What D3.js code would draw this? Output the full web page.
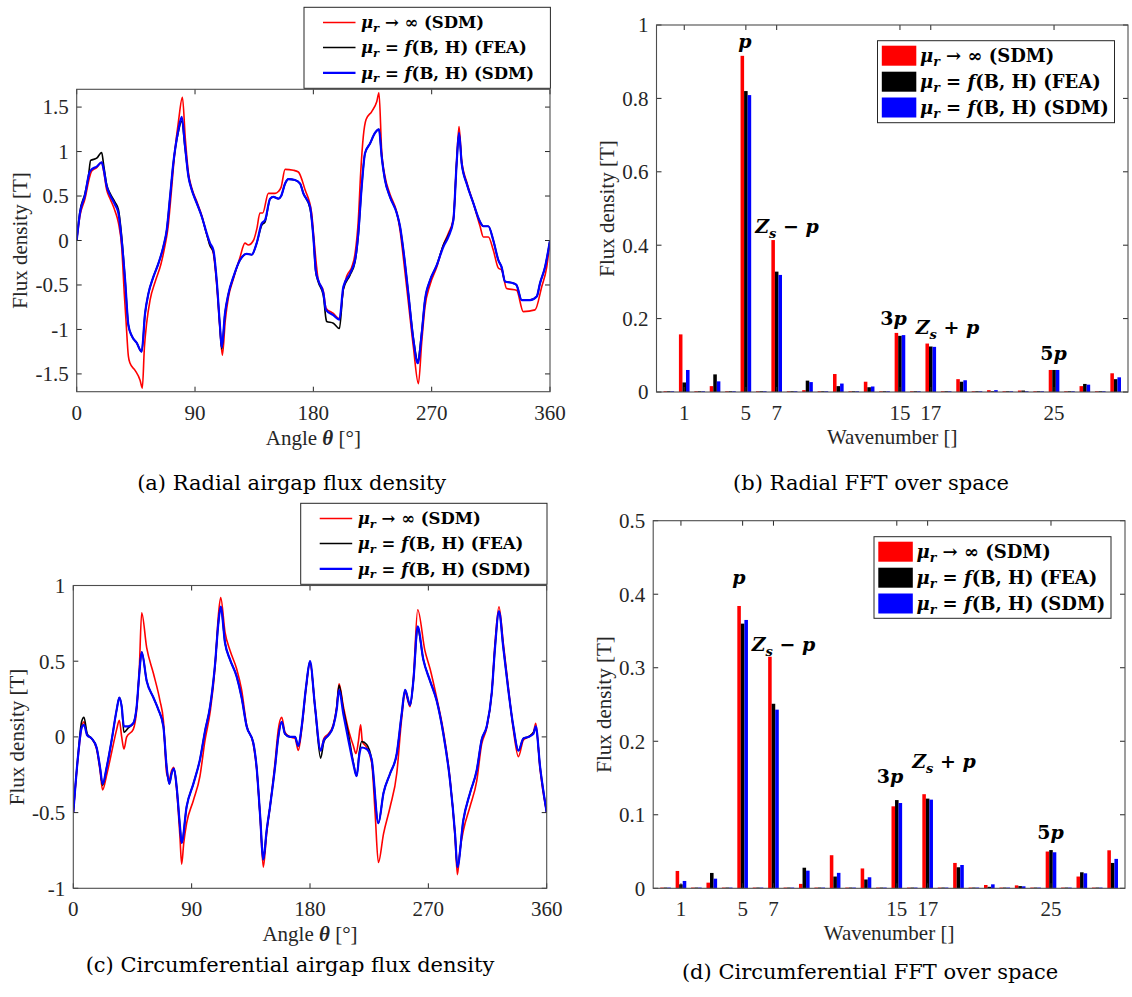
<!DOCTYPE html>
<html><head><meta charset="utf-8">
<script src="https://cdn.jsdelivr.net/npm/d3@7"></script>
<style>body{margin:0;background:#fff}</style>
</head><body><svg id="c" width="1132" height="997" xmlns="http://www.w3.org/2000/svg"></svg>
<script>
// ---------------- DATA ----------------
// (a) Radial airgap flux density [angle deg, T]
const radialSDMinf = [[0,0],[2.5,0.28],[6.3,0.47],[9.6,0.70],[11.4,0.78],[15.2,0.82],[19,0.88],[20.5,0.78],[22.8,0.57],[25.4,0.47],[29.2,0.33],[31.7,0.20],[34.2,-0.07],[36.2,-0.6],[37.5,-0.9],[39.3,-1.30],[40.6,-1.38],[44.4,-1.46],[48.2,-1.57],[49.9,-1.66],[51.5,-1.2],[53.2,-0.93],[55.8,-0.67],[60,-0.45],[64,-0.27],[67,-0.07],[69.5,0.15],[72,0.55],[74.5,0.98],[77.5,1.35],[80.4,1.61],[82.6,1.15],[85,0.76],[87.5,0.59],[91.3,0.44],[95.1,0.28],[98.9,0.07],[101.4,-0.05],[104,-0.15],[106.5,-0.5],[109,-1.0],[110.8,-1.29],[113,-0.9],[115.4,-0.64],[119.2,-0.43],[124,-0.2],[128,-0.03],[130.6,-0.05],[134.4,0.0],[137,0.13],[139.4,0.31],[141.5,0.31],[145.8,0.53],[150.9,0.53],[153.4,0.55],[155.5,0.60],[158.5,0.80],[164.8,0.79],[168.6,0.77],[173.7,0.57],[178.7,0.31],[180,0.1],[182.5,-0.30],[183.8,-0.45],[187.6,-0.57],[189.6,-0.76],[195.2,-0.82],[199.8,-0.88],[202.8,-0.55],[205.4,-0.40],[209.2,-0.30],[211.7,-0.15],[214.2,0.23],[216,0.76],[218,1.17],[220.1,1.36],[224.4,1.45],[228.2,1.56],[229.9,1.66],[232,1.0],[234.5,0.72],[238.3,0.52],[243.4,0.32],[245.9,0.12],[248.5,-0.2],[252.3,-0.7],[256.1,-1.2],[259.9,-1.61],[262.4,-1.15],[264.9,-0.75],[268.7,-0.5],[273.8,-0.3],[278.9,-0.05],[282.7,0.08],[286.5,0.25],[289,0.9],[290.8,1.28],[292.8,0.9],[296.6,0.66],[301.7,0.42],[306.8,0.16],[309.3,0.04],[313.1,0.04],[316.9,-0.11],[320.7,-0.31],[323.2,-0.33],[327,-0.54],[334.6,-0.56],[339.7,-0.80],[348.6,-0.78],[353.7,-0.52],[357.5,-0.30],[360,0.0]];
const radialFEA = [[0,0],[2.5,0.33],[6.3,0.53],[8.9,0.72],[10.6,0.90],[15.2,0.925],[19,0.99],[20.5,0.85],[22.8,0.63],[25.4,0.53],[29.2,0.43],[31.7,0.35],[34.2,0.05],[36.8,-0.44],[39.3,-0.95],[41.8,-1.07],[45.6,-1.15],[49.4,-1.25],[52,-0.82],[54.5,-0.6],[58.3,-0.41],[62.1,-0.26],[65.9,-0.07],[68.5,0.12],[71,0.49],[73.5,0.87],[77.3,1.22],[79.9,1.34],[82.4,1.04],[85,0.72],[87.5,0.57],[91.3,0.42],[95.1,0.27],[98.9,0.07],[101.4,-0.06],[104,-0.13],[106.5,-0.46],[109,-0.98],[110.3,-1.22],[112.8,-0.82],[115.4,-0.6],[119.2,-0.41],[124.2,-0.22],[129.3,-0.15],[133.1,-0.16],[136.9,-0.03],[140.7,0.17],[143.3,0.21],[147.1,0.47],[149.6,0.49],[153.4,0.47],[155.5,0.50],[158.5,0.64],[161,0.69],[166,0.68],[169.9,0.64],[172.4,0.53],[177.5,0.36],[180,0.04],[181.8,-0.35],[183.8,-0.47],[187.6,-0.62],[189.6,-0.88],[190.1,-0.91],[195.2,-0.93],[199.8,-0.99],[202.8,-0.55],[207.9,-0.39],[211.7,-0.24],[214.2,0.06],[216.8,0.61],[219.3,0.98],[223.1,1.09],[226.9,1.21],[229.9,1.25],[232,0.94],[234.5,0.68],[238.3,0.49],[243.4,0.31],[245.9,0.16],[248.5,-0.11],[252.3,-0.60],[256.1,-1.10],[259.4,-1.35],[262.4,-1.03],[264.9,-0.67],[268.7,-0.45],[273.8,-0.28],[278.9,-0.05],[282.7,0.06],[286.5,0.23],[289,0.87],[290.8,1.20],[292.8,0.87],[296.6,0.64],[301.7,0.42],[306.8,0.21],[309.3,0.16],[313.1,0.16],[316.9,0.0],[320.7,-0.22],[323.2,-0.30],[325.8,-0.46],[332.1,-0.48],[334.5,-0.50],[338.5,-0.67],[344.8,-0.67],[349.9,-0.63],[352.4,-0.48],[356.2,-0.30],[360,0.0]];
const radialSDM = [[0,0],[2.5,0.31],[6.3,0.51],[9.6,0.76],[11.4,0.80],[15.2,0.83],[19,0.88],[20.5,0.80],[22.8,0.61],[25.4,0.51],[29.2,0.40],[31.7,0.31],[34.2,0.0],[36.8,-0.44],[39.3,-0.95],[41.8,-1.07],[45.6,-1.15],[49.4,-1.25],[52,-0.82],[54.5,-0.6],[58.3,-0.41],[62.1,-0.26],[65.9,-0.07],[68.5,0.12],[71,0.49],[73.5,0.87],[77.3,1.24],[79.9,1.39],[82.4,1.06],[85,0.72],[87.5,0.57],[91.3,0.42],[95.1,0.27],[98.9,0.08],[101.4,-0.03],[104,-0.11],[106.5,-0.45],[109,-0.97],[110.3,-1.2],[112.8,-0.82],[115.4,-0.6],[119.2,-0.41],[124.2,-0.22],[129.3,-0.15],[133.1,-0.16],[136.9,-0.03],[140.7,0.19],[143.3,0.23],[147.1,0.47],[149.6,0.49],[153.4,0.47],[155.5,0.50],[158.5,0.64],[161,0.69],[166,0.68],[169.9,0.64],[172.4,0.53],[177.5,0.38],[180,0.04],[181.8,-0.33],[183.8,-0.45],[187.6,-0.59],[189.6,-0.78],[195.2,-0.84],[199.8,-0.89],[202.8,-0.52],[207.9,-0.37],[211.7,-0.22],[214.2,0.08],[216.8,0.61],[219.3,0.98],[223.1,1.09],[226.9,1.21],[229.9,1.25],[232,0.94],[234.5,0.68],[238.3,0.49],[243.4,0.31],[245.9,0.16],[248.5,-0.11],[252.3,-0.60],[256.1,-1.12],[259.4,-1.38],[262.4,-1.05],[264.9,-0.67],[268.7,-0.45],[273.8,-0.28],[278.9,-0.07],[282.7,0.04],[286.5,0.23],[289,0.87],[290.8,1.21],[292.8,0.87],[296.6,0.64],[301.7,0.42],[306.8,0.21],[309.3,0.16],[313.1,0.16],[316.9,0.0],[320.7,-0.22],[323.2,-0.30],[325.8,-0.46],[332.1,-0.48],[334.5,-0.50],[338.5,-0.67],[344.8,-0.67],[349.9,-0.63],[352.4,-0.48],[356.2,-0.30],[360,0.0]];

// (c) Circumferential airgap flux density [angle deg, T]
const circSDMinf = [[0,-0.50],[3.8,-0.12],[6.3,0.06],[8.1,0.10],[10.6,0.01],[13.9,-0.01],[17.7,-0.08],[20.3,-0.22],[22.3,-0.35],[25.4,-0.25],[29.2,-0.10],[33,0.05],[35,0.11],[36.8,0.0],[38.5,-0.08],[40.6,0.0],[45.6,0.05],[48.2,0.18],[50.2,0.45],[52,0.82],[55.8,0.59],[60.9,0.42],[65.9,0.24],[68.5,0.11],[71,-0.24],[73,-0.28],[74.8,-0.22],[76.3,-0.20],[78.6,-0.35],[81.1,-0.66],[82.4,-0.84],[84,-0.70],[86.2,-0.57],[91.3,-0.42],[96.3,-0.26],[100.2,-0.02],[104,0.16],[107.8,0.46],[110.3,0.80],[112.1,0.92],[115.4,0.69],[119.2,0.57],[124.2,0.45],[128,0.31],[131.8,0.08],[136.9,-0.05],[139.4,-0.21],[142,-0.52],[144.5,-0.86],[147,-0.64],[149.6,-0.46],[153.4,-0.17],[155.9,0.05],[158.5,0.13],[161,0.03],[164.8,0.0],[168.6,-0.01],[171.1,-0.09],[173.7,0.05],[177,0.32],[180,0.49],[183.8,0.20],[188.1,-0.09],[190.6,-0.01],[193.9,0.02],[197.7,0.08],[200.3,0.20],[202.1,0.35],[205.4,0.20],[209.2,0.05],[213,-0.06],[215,-0.11],[216.8,-0.03],[218.5,0.08],[219.8,-0.03],[223.1,-0.07],[226.9,-0.17],[229.5,-0.5],[232,-0.83],[235.9,-0.64],[241,-0.46],[246,-0.24],[249.7,0.12],[252.3,0.29],[256.1,0.20],[258.6,0.38],[261.9,0.84],[267.4,0.57],[271.3,0.45],[276.3,0.26],[281.4,0.04],[286.5,-0.28],[290.3,-0.66],[292.1,-0.91],[294,-0.75],[296.6,-0.62],[301.7,-0.46],[306.8,-0.29],[310.5,-0.05],[314.4,0.06],[318.2,0.29],[320.7,0.62],[323.7,0.86],[327,0.62],[330.8,0.33],[334.6,0.05],[338.5,-0.13],[342.3,-0.02],[346.1,0.0],[349.9,0.03],[351.7,0.09],[355,-0.22],[360,-0.50]];
const circFEA = [[0,-0.50],[3.8,-0.10],[6.3,0.10],[8.1,0.13],[10.6,0.02],[13.9,-0.01],[17.7,-0.07],[20.3,-0.20],[22.3,-0.32],[25.4,-0.20],[29.2,-0.02],[33,0.18],[35,0.26],[36.8,0.20],[38.5,0.03],[41.8,0.06],[45.6,0.09],[48.2,0.20],[50.2,0.42],[52,0.56],[55.8,0.37],[60.9,0.26],[64.7,0.18],[68.5,0.07],[71,-0.20],[73,-0.31],[74.8,-0.24],[76.6,-0.21],[78.6,-0.33],[81.1,-0.59],[82.4,-0.70],[86.2,-0.46],[91.3,-0.31],[96.3,-0.15],[100.2,0.04],[104,0.20],[107.8,0.48],[110.3,0.75],[112.1,0.86],[115.4,0.62],[119.2,0.51],[124.2,0.40],[128,0.26],[131.8,0.07],[136.9,-0.04],[139.4,-0.20],[142,-0.51],[144.5,-0.81],[147,-0.62],[149.6,-0.46],[153.4,-0.20],[155.9,0.0],[158.5,0.10],[161,0.02],[164.8,0.0],[168.6,0.0],[171.1,-0.06],[173.7,0.07],[177,0.33],[180,0.50],[183.8,0.20],[188.1,-0.14],[190.6,-0.03],[193.9,0.01],[197.7,0.07],[200.3,0.19],[202.1,0.34],[205.4,0.18],[209.2,0.02],[213,-0.17],[215.5,-0.26],[217.5,-0.10],[219.3,-0.03],[223.1,-0.05],[226.9,-0.15],[232,-0.57],[235.9,-0.37],[241,-0.24],[246,-0.11],[249.7,0.15],[252.3,0.31],[256.1,0.21],[258.6,0.37],[261.9,0.71],[266.2,0.51],[271.3,0.37],[276.3,0.24],[281.4,0.02],[286.5,-0.29],[290.3,-0.64],[292.1,-0.86],[296.6,-0.55],[301.7,-0.37],[306.8,-0.22],[310.5,-0.02],[314.4,0.07],[318.2,0.29],[320.7,0.59],[323.7,0.83],[327,0.59],[330.8,0.31],[334.6,0.07],[338.5,-0.09],[342.3,-0.01],[346.1,0.0],[349.9,0.03],[351.7,0.06],[355,-0.20],[360,-0.50]];
const circSDM = [[0,-0.50],[3.8,-0.11],[6.3,0.06],[8.1,0.08],[10.6,0.01],[13.9,-0.01],[17.7,-0.07],[20.3,-0.20],[22.3,-0.31],[25.4,-0.20],[29.2,-0.02],[33,0.18],[35,0.26],[36.8,0.20],[38.5,0.07],[41.8,0.07],[45.6,0.09],[48.2,0.20],[50.2,0.42],[52,0.56],[55.8,0.37],[60.9,0.26],[64.7,0.18],[68.5,0.07],[71,-0.20],[73,-0.31],[74.8,-0.24],[76.6,-0.21],[78.6,-0.33],[81.1,-0.59],[82.4,-0.70],[86.2,-0.46],[91.3,-0.31],[96.3,-0.15],[100.2,0.04],[104,0.20],[107.8,0.48],[110.3,0.75],[112.1,0.86],[115.4,0.62],[119.2,0.51],[124.2,0.40],[128,0.26],[131.8,0.07],[136.9,-0.04],[139.4,-0.20],[142,-0.51],[144.5,-0.81],[147,-0.62],[149.6,-0.46],[153.4,-0.20],[155.9,0.0],[158.5,0.10],[161,0.02],[164.8,0.0],[168.6,0.0],[171.1,-0.06],[173.7,0.07],[177,0.33],[180,0.50],[183.8,0.20],[188.1,-0.09],[190.6,-0.02],[193.9,0.01],[197.7,0.07],[200.3,0.18],[202.1,0.31],[205.4,0.15],[209.2,-0.02],[213,-0.18],[215.5,-0.26],[217.5,-0.12],[219.3,-0.07],[223.1,-0.08],[226.9,-0.15],[232,-0.57],[235.9,-0.37],[241,-0.24],[246,-0.11],[249.7,0.15],[252.3,0.31],[256.1,0.21],[258.6,0.37],[261.9,0.73],[266.2,0.51],[271.3,0.37],[276.3,0.24],[281.4,0.02],[286.5,-0.29],[290.3,-0.64],[292.1,-0.86],[296.6,-0.55],[301.7,-0.37],[306.8,-0.22],[310.5,-0.02],[314.4,0.07],[318.2,0.29],[320.7,0.59],[323.7,0.83],[327,0.59],[330.8,0.31],[334.6,0.07],[338.5,-0.09],[342.3,-0.01],[346.1,0.0],[349.9,0.02],[351.7,0.07],[355,-0.20],[360,-0.50]];

// FFT spectra: wavenumbers 0..29
const wavenumbers = [0,1,2,3,4,5,6,7,8,9,10,11,12,13,14,15,16,17,18,19,20,21,22,23,24,25,26,27,28,29];
const radFFT_SDMinf = [0.002,0.157,0.002,0.016,0.002,0.916,0.002,0.414,0.002,0.005,0.002,0.049,0.002,0.028,0.002,0.161,0.002,0.132,0.002,0.035,0.002,0.005,0.002,0.004,0.002,0.060,0.002,0.016,0.002,0.051];
const radFFT_FEA    = [0.002,0.026,0.002,0.048,0.002,0.820,0.002,0.328,0.002,0.031,0.002,0.016,0.002,0.013,0.002,0.153,0.002,0.124,0.002,0.028,0.002,0.002,0.002,0.004,0.002,0.060,0.002,0.022,0.002,0.035];
const radFFT_SDM    = [0.002,0.060,0.002,0.029,0.002,0.809,0.002,0.319,0.002,0.027,0.002,0.023,0.002,0.015,0.002,0.155,0.002,0.123,0.002,0.032,0.002,0.005,0.002,0.002,0.002,0.060,0.002,0.020,0.002,0.040];
const circFFT_SDMinf = [0.001,0.0236,0.001,0.0077,0.001,0.384,0.001,0.315,0.001,0.006,0.001,0.045,0.001,0.027,0.001,0.1115,0.001,0.128,0.001,0.0345,0.001,0.0045,0.001,0.004,0.001,0.050,0.001,0.016,0.001,0.0517];
const circFFT_FEA    = [0.001,0.0054,0.001,0.0209,0.001,0.360,0.001,0.251,0.001,0.028,0.001,0.016,0.001,0.012,0.001,0.120,0.001,0.122,0.001,0.0286,0.001,0.002,0.001,0.003,0.001,0.052,0.001,0.0218,0.001,0.0345];
const circFFT_SDM    = [0.001,0.010,0.001,0.0131,0.001,0.365,0.001,0.243,0.001,0.024,0.001,0.021,0.001,0.015,0.001,0.116,0.001,0.1206,0.001,0.0317,0.001,0.0054,0.001,0.0027,0.001,0.049,0.001,0.0204,0.001,0.040];

const angleTicks = [0,90,180,270,360];
const radialTicks = [-1.5,-1,-0.5,0,0.5,1,1.5];
const circTicks = [-1,-0.5,0,0.5,1];
const radFFTTicks = [0,0.2,0.4,0.6,0.8,1];
const circFFTTicks = [0,0.1,0.2,0.3,0.4,0.5];
const wavenumberTicks = [1,5,7,15,17,25];
const seriesColors = ["#ff0000","#000000","#0000ff"];
const legendTags = ["(SDM)","(FEA)","(SDM)"];
const captions = ["(a) Radial airgap flux density","(b) Radial FFT over space","(c) Circumferential airgap flux density","(d) Circumferential FFT over space"];

// ---------------- DRAW ----------------
const svg = d3.select("#c");
svg.append("rect").attr("width",1132).attr("height",997).attr("fill","#fff");
const TICKFONT = "'Liberation Serif','Times New Roman',serif";
const MATHFONT = "'DejaVu Serif',serif";
const CAPFONT = "'DejaVu Serif',serif";
const TXT = "#262626";
const TFS = 21;
let clipId = 0;

function axesFrame(g, box, x, y, xt, yt, fmt) {
  const {l,r,t,b} = box;
  xt.forEach(v => {
    const px = x(v);
    g.append("line").attr("x1",px).attr("x2",px).attr("y1",b).attr("y2",b-5).attr("stroke",TXT).attr("stroke-width",1);
    g.append("line").attr("x1",px).attr("x2",px).attr("y1",t).attr("y2",t+5).attr("stroke",TXT).attr("stroke-width",1);
    g.append("text").attr("x",px).attr("y",b+28).attr("text-anchor","middle")
      .attr("font-family",TICKFONT).attr("font-size",TFS).attr("fill",TXT).text(fmt(v));
  });
  yt.forEach(v => {
    const py = y(v);
    g.append("line").attr("x1",l).attr("x2",l+5).attr("y1",py).attr("y2",py).attr("stroke",TXT).attr("stroke-width",1);
    g.append("line").attr("x1",r).attr("x2",r-5).attr("y1",py).attr("y2",py).attr("stroke",TXT).attr("stroke-width",1);
    g.append("text").attr("x",l-8).attr("y",py).attr("dy","0.35em").attr("text-anchor","end")
      .attr("font-family",TICKFONT).attr("font-size",TFS).attr("fill",TXT).text(fmt(v));
  });
  g.append("rect").attr("x",l).attr("y",t).attr("width",r-l).attr("height",b-t)
    .attr("fill","none").attr("stroke","#4d4d4d").attr("stroke-width",1.1);
}

function fmtNum(v){ return String(v); }

function yLabel(g, xc, yc) {
  g.append("text").attr("transform",`translate(${xc},${yc}) rotate(-90)`).attr("text-anchor","middle")
    .attr("dy","0.35em").attr("font-family",TICKFONT).attr("font-size",TFS).attr("fill",TXT).text("Flux density [T]");
}

function legendText(g, x, yc, i, fs) {
  const t = g.append("text").attr("x",x).attr("y",yc).attr("dy","0.36em")
    .attr("font-family",MATHFONT).attr("font-weight","bold").attr("font-size",fs).attr("fill","#000");
  t.append("tspan").attr("font-style","italic").text("μ");
  t.append("tspan").attr("font-style","italic").attr("font-size",fs*0.7).attr("dy",fs*0.22).text("r");
  if (i === 0) {
    t.append("tspan").attr("dy",-fs*0.22).text(" → ∞ (SDM)");
  } else {
    t.append("tspan").attr("dy",-fs*0.22).text(" = ");
    t.append("tspan").attr("font-style","italic").text("f");
    t.append("tspan").text("(B, H) " + legendTags[i]);
  }
}

function linePanel(box, series, yDomain, yTicks, legendBox) {
  const g = svg.append("g");
  const x = d3.scaleLinear().domain([0,360]).range([box.l, box.r]);
  const y = d3.scaleLinear().domain(yDomain).range([box.b, box.t]);
  const id = "clip" + (clipId++);
  svg.append("clipPath").attr("id",id).append("rect").attr("x",box.l).attr("y",box.t).attr("width",box.r-box.l).attr("height",box.b-box.t);
  const line = d3.line().x(d=>x(d[0])).y(d=>y(d[1])).curve(d3.curveMonotoneX);
  const widths = [1.6,1.6,2.2];
  series.forEach((s,i) => {
    g.append("path").attr("d",line(s)).attr("fill","none").attr("stroke",seriesColors[i])
      .attr("stroke-width",widths[i]).attr("stroke-linejoin","round").attr("clip-path",`url(#${id})`);
  });
  axesFrame(g, box, x, y, angleTicks, yTicks, fmtNum);
  const xl = g.append("text").attr("x",(box.l+box.r)/2).attr("y",box.b+53).attr("text-anchor","middle")
    .attr("font-family",TICKFONT).attr("font-size",TFS).attr("fill",TXT);
  xl.append("tspan").text("Angle ");
  xl.append("tspan").attr("font-weight","bold").attr("font-style","italic").text("θ");
  xl.append("tspan").text(" [°]");
  yLabel(g, box.l-57, (box.t+box.b)/2);
  const lb = legendBox;
  g.append("rect").attr("x",lb.l).attr("y",lb.t).attr("width",lb.r-lb.l).attr("height",lb.b-lb.t)
    .attr("fill","#fff").attr("stroke","#262626").attr("stroke-width",1);
  [15.2,40.2,65.5].forEach((dy,i) => {
    const yy = lb.t + dy;
    g.append("line").attr("x1",lb.l+19).attr("x2",lb.l+51.5).attr("y1",yy).attr("y2",yy)
      .attr("stroke",seriesColors[i]).attr("stroke-width",widths[i]);
    legendText(g, lb.l+57, yy, i, 16.5);
  });
}

function barPanel(box, series, yDomain, yTicks, legendBox, annots) {
  const g = svg.append("g");
  const x = d3.scaleLinear().domain([-0.8,29.8]).range([box.l, box.r]);
  const y = d3.scaleLinear().domain(yDomain).range([box.b, box.t]);
  const bw = 0.23;
  series.forEach((s,i) => {
    g.selectAll(null).data(wavenumbers).enter().append("rect")
      .attr("x", k => x(k + (i-1)*bw - bw/2))
      .attr("width", x(bw) - x(0))
      .attr("y", (k,j) => y(s[j]))
      .attr("height", (k,j) => box.b - y(s[j]))
      .attr("fill", seriesColors[i]);
  });
  axesFrame(g, box, x, y, wavenumberTicks, yTicks, fmtNum);
  g.append("text").attr("x",(box.l+box.r)/2).attr("y",box.b+52).attr("text-anchor","middle")
    .attr("font-family",TICKFONT).attr("font-size",TFS).attr("fill",TXT).text("Wavenumber []");
  yLabel(g, box.l-50, (box.t+box.b)/2);
  annots.forEach(a => {
    const t = g.append("text").attr("x",a.x).attr("y",a.y).attr("text-anchor","middle")
      .attr("font-family",MATHFONT).attr("font-weight","bold").attr("font-style","italic").attr("font-size",19).attr("fill","#000");
    if (a.kind === "p") t.text("p");
    else if (a.kind === "3p") { t.append("tspan").attr("font-style","normal").text("3"); t.append("tspan").text("p"); }
    else if (a.kind === "5p") { t.append("tspan").attr("font-style","normal").text("5"); t.append("tspan").text("p"); }
    else {
      t.append("tspan").text("Z");
      t.append("tspan").attr("font-size",13).attr("dy",5).text("s");
      t.append("tspan").attr("dy",-5).attr("font-style","normal").text(a.kind === "zm" ? " − " : " + ");
      t.append("tspan").text("p");
    }
  });
  const lb = legendBox;
  g.append("rect").attr("x",lb.l).attr("y",lb.t).attr("width",lb.r-lb.l).attr("height",lb.b-lb.t)
    .attr("fill","#fff").attr("stroke","#262626").attr("stroke-width",1);
  [15,41,66.8].forEach((dy,i) => {
    const yy = lb.t + dy;
    g.append("rect").attr("x",lb.l+4.3).attr("y",yy-10).attr("width",34.5).attr("height",20).attr("fill",seriesColors[i]);
    legendText(g, lb.l+42.5, yy, i, 18);
  });
}

linePanel({l:76.7,r:550,t:89.3,b:391.7}, [radialSDMinf, radialFEA, radialSDM], [-1.7,1.7], radialTicks,
  {l:304,r:550.4,t:7.3,b:88.3});
linePanel({l:73.3,r:546.7,t:585.5,b:888.3}, [circSDMinf, circFEA, circSDM], [-1,1], circTicks,
  {l:300.7,r:547,t:503.3,b:584.3});
barPanel({l:656.5,r:1128,t:25,b:392}, [radFFT_SDMinf, radFFT_FEA, radFFT_SDM], [0,1], radFFTTicks,
  {l:877.5,r:1114.5,t:40.7,b:122.7},
  [{kind:"p",x:745,y:48},{kind:"zm",x:787,y:233},{kind:"3p",x:893.5,y:325},{kind:"zp",x:947.5,y:334},{kind:"5p",x:1053.5,y:360}]);
barPanel({l:653.2,r:1125,t:520.7,b:888.3}, [circFFT_SDMinf, circFFT_FEA, circFFT_SDM], [0,0.5], circFFTTicks,
  {l:874,r:1111,t:536.7,b:618.3},
  [{kind:"p",x:739,y:584},{kind:"zm",x:783.5,y:651},{kind:"3p",x:890,y:783},{kind:"zp",x:944,y:768},{kind:"5p",x:1050.6,y:839}]);

[[291.7,490,0],[871,490,1],[290,972,2],[870,979,3]].forEach(([cx,cy,i]) => {
  svg.append("text").attr("x",cx).attr("y",cy).attr("text-anchor","middle")
    .attr("font-family",CAPFONT).attr("font-size",21).attr("fill","#000").text(captions[i]);
});
</script>
</body></html>
